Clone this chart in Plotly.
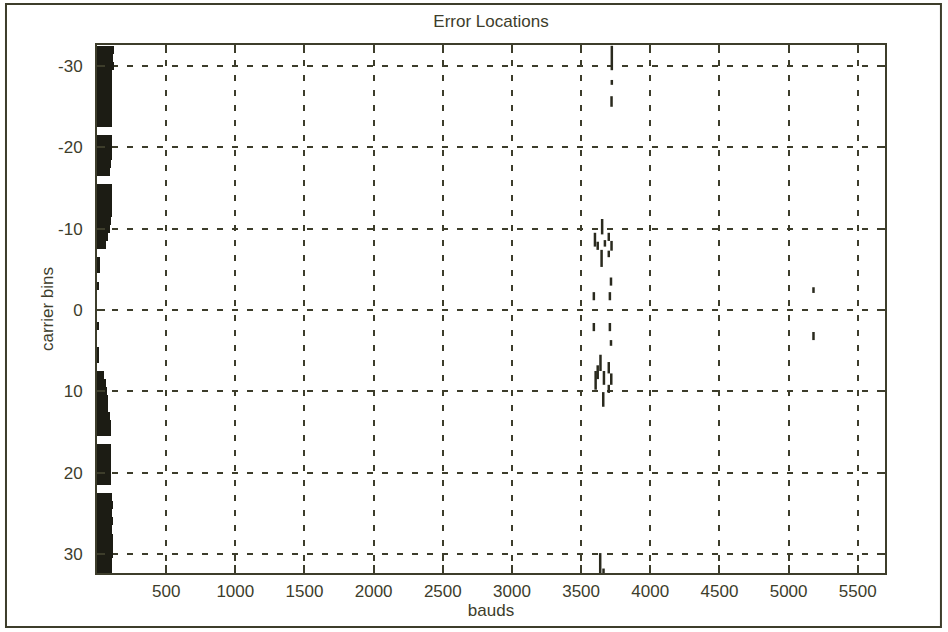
import plotly.graph_objects as go

# ---------------- data ----------------
bins = list(range(-32, 33))
# extent (in bauds) of the dense error block at the start of the frame, per carrier bin
left_widths = [
    120, 118, 120, 112, 112, 110, 112, 110, 112, 110,   # -32 .. -23
    0,                                                   # -22
    105, 108, 105, 100, 95,                              # -21 .. -17
    0,                                                   # -16
    105, 108, 108, 105, 100, 95, 80, 65,                 # -15 .. -8
    0, 20, 20, 0, 15, 0, 0,                              # -7 .. -1
    0,                                                   # 0
    0, 15, 0, 0, 15, 15, 0,                              # 1 .. 7
    50, 65, 75, 80, 80, 95, 100, 100,                    # 8 .. 15
    0,                                                   # 16
    100, 100, 100, 100, 100,                             # 17 .. 21
    0,                                                   # 22
    112, 115, 110, 118, 112, 115, 118, 118, 112, 110,    # 23 .. 32
]

# isolated error bursts: baud position, first and last carrier bin
stroke_baud = [3722, 3722, 3720,
               3652, 3600, 3620, 3648, 3672, 3700, 3720, 3700,
               3716, 3592, 3708, 3592, 3708, 3716,
               3640, 3605, 3620, 3665, 3700, 3718, 3700, 3660,
               3638, 3662, 5180, 5180]
stroke_from = [-32.5, -28.3, -26.3,
               -11.2, -9.5, -8.4, -7.4, -8.6, -9.5, -8.5, -7.3,
               -4.0, -2.2, -2.2, 1.6, 1.6, 3.7,
               5.5, 7.5, 6.8, 7.5, 6.4, 7.8, 9.2, 10.1,
               29.9, 31.8, -2.8, 2.7]
stroke_to = [-29.5, -27.7, -25.0,
             -9.3, -7.8, -7.4, -5.3, -7.8, -8.5, -7.3, -6.5,
             -3.0, -1.2, -1.2, 2.6, 2.6, 4.4,
             7.5, 9.8, 8.5, 9.2, 7.8, 9.2, 10.2, 11.9,
             32.5, 32.5, -2.1, 3.7]

x_ticks = [500, 1000, 1500, 2000, 2500, 3000, 3500, 4000, 4500, 5000, 5500]
y_ticks = [-30, -20, -10, 0, 10, 20, 30]

# ---------------- figure ----------------
INK = "#3d3d2b"
DARK = "#1c1c14"
FONT = dict(family="Liberation Sans, Arial, sans-serif", size=17, color=INK)

fig = go.Figure()

fig.add_trace(go.Bar(
    y=bins, x=left_widths, base=0, orientation="h", width=1.0,
    marker=dict(color=DARK, line=dict(width=0)), showlegend=False,
    hoverinfo="skip",
))

sx, sy = [], []
for b, f, t in zip(stroke_baud, stroke_from, stroke_to):
    sx += [b, b, None]
    sy += [f, t, None]
fig.add_trace(go.Scatter(
    x=sx, y=sy, mode="lines", line=dict(color="#2a2a1e", width=2.5),
    showlegend=False, hoverinfo="skip",
))

fig.update_layout(
    width=948, height=632,
    margin=dict(l=97, r=63, t=45, b=59, autoexpand=False),
    paper_bgcolor="white", plot_bgcolor="white",
    font=FONT, bargap=0,
    title=dict(text="Error Locations", x=0.5, xref="paper", xanchor="center",
               y=1 - 21 / 632, yanchor="middle", font=FONT),
    shapes=[dict(type="rect", xref="paper", yref="paper",
                 x0=-0.1155, x1=1.071, y0=-0.1023, y1=1.0777,
                 line=dict(color=INK, width=2), layer="below")],
)

fig.update_xaxes(
    range=[0, 5697], tickvals=x_ticks, ticktext=[str(v) for v in x_ticks],
    showgrid=True, gridcolor=INK, gridwidth=1.5, griddash="6px,9px",
    showline=True, linecolor=INK, linewidth=2, mirror="ticks",
    ticks="inside", ticklen=8, tickcolor=INK, tickwidth=1.5,
    ticklabelstandoff=2, zeroline=False,
    title=dict(text="bauds", standoff=2, font=FONT), tickfont=FONT,
)
fig.update_yaxes(
    range=[32.35, -32.6], tickvals=y_ticks, ticktext=[str(v) for v in y_ticks],
    showgrid=True, gridcolor=INK, gridwidth=1.5, griddash="6px,9px",
    showline=True, linecolor=INK, linewidth=2, mirror="ticks",
    ticks="inside", ticklen=8, tickcolor=INK, tickwidth=1.5,
    ticklabelstandoff=9, zeroline=False,
    title=dict(text="carrier bins", standoff=0, font=FONT), tickfont=FONT,
)

fig.write_html(
    "out.html",
    config={"displayModeBar": False},
    post_script="document.body.style.margin='0';document.body.style.overflow='hidden';",
)
